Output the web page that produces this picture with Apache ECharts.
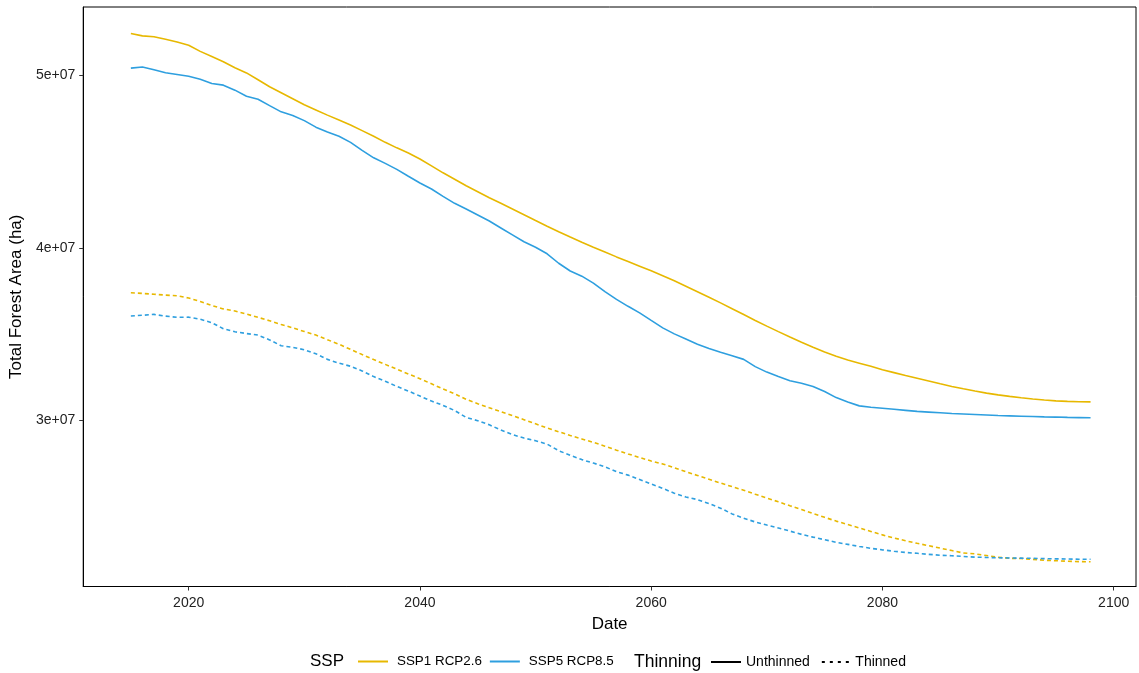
<!DOCTYPE html>
<html>
<head>
<meta charset="utf-8">
<script src="https://cdn.jsdelivr.net/npm/echarts@6/dist/echarts.min.js"></script>
<style>
  html, body { margin: 0; padding: 0; background: #fff; }
  #chart { width: 1139px; height: 673px; }
</style>
</head>
<body>
<div id="chart"></div>
<script>
// Years of the projection
const years = [];
for (let y = 2015; y <= 2098; y++) years.push(y);

// Total forest area (ha), one value per year, 2015..2098
const ssp1Unthinned = [
  52440000, 52300000, 52250000, 52100000, 51950000, 51760000, 51400000, 51100000, 50800000, 50450000,
  50150000, 49750000, 49350000, 49000000, 48650000, 48300000, 48000000, 47700000, 47420000, 47130000,
  46800000, 46470000, 46120000, 45800000, 45500000, 45150000, 44750000, 44350000, 43980000, 43600000,
  43250000, 42900000, 42580000, 42250000, 41920000, 41580000, 41250000, 40930000, 40620000, 40320000,
  40030000, 39750000, 39470000, 39200000, 38930000, 38660000, 38380000, 38080000, 37770000, 37450000,
  37130000, 36800000, 36460000, 36120000, 35780000, 35450000, 35130000, 34820000, 34520000, 34230000,
  33950000, 33700000, 33480000, 33300000, 33120000, 32920000, 32750000, 32580000, 32420000, 32260000,
  32100000, 31950000, 31810000, 31680000, 31560000, 31460000, 31370000, 31290000, 31220000, 31160000,
  31110000, 31080000, 31060000, 31050000
];
const ssp5Unthinned = [
  50430000, 50490000, 50330000, 50160000, 50060000, 49960000, 49780000, 49540000, 49440000, 49150000,
  48800000, 48620000, 48250000, 47890000, 47680000, 47380000, 47000000, 46720000, 46470000, 46120000,
  45650000, 45220000, 44900000, 44550000, 44150000, 43760000, 43410000, 42980000, 42580000, 42250000,
  41900000, 41550000, 41150000, 40750000, 40350000, 40030000, 39650000, 39100000, 38650000, 38350000,
  37950000, 37450000, 37000000, 36600000, 36220000, 35780000, 35350000, 35000000, 34700000, 34400000,
  34150000, 33930000, 33730000, 33520000, 33100000, 32780000, 32520000, 32280000, 32130000, 31950000,
  31650000, 31300000, 31050000, 30820000, 30740000, 30680000, 30620000, 30560000, 30500000, 30460000,
  30420000, 30380000, 30350000, 30320000, 30290000, 30260000, 30240000, 30220000, 30200000, 30180000,
  30170000, 30150000, 30140000, 30130000
];
const ssp1Thinned = [
  37390000, 37350000, 37300000, 37250000, 37210000, 37080000, 36880000, 36650000, 36450000, 36330000,
  36150000, 35960000, 35760000, 35550000, 35350000, 35140000, 34930000, 34660000, 34400000, 34100000,
  33800000, 33510000, 33230000, 32950000, 32670000, 32400000, 32100000, 31800000, 31520000, 31200000,
  30950000, 30710000, 30480000, 30250000, 30020000, 29780000, 29540000, 29320000, 29100000, 28900000,
  28700000, 28480000, 28250000, 28030000, 27820000, 27620000, 27450000, 27230000, 27000000, 26780000,
  26560000, 26340000, 26130000, 25920000, 25690000, 25470000, 25250000, 25020000, 24800000, 24570000,
  24350000, 24130000, 23930000, 23730000, 23530000, 23330000, 23150000, 22990000, 22840000, 22700000,
  22560000, 22420000, 22280000, 22230000, 22130000, 22030000, 21970000, 21960000, 21910000, 21860000,
  21830000, 21800000, 21780000, 21770000
];
const ssp5Thinned = [
  36040000, 36080000, 36130000, 36030000, 35960000, 35970000, 35850000, 35650000, 35300000, 35120000,
  35020000, 34930000, 34650000, 34310000, 34220000, 34080000, 33850000, 33520000, 33300000, 33120000,
  32850000, 32520000, 32250000, 31950000, 31680000, 31390000, 31100000, 30850000, 30550000, 30150000,
  29960000, 29720000, 29420000, 29150000, 28950000, 28800000, 28600000, 28220000, 27950000, 27700000,
  27500000, 27280000, 27000000, 26800000, 26550000, 26280000, 26030000, 25750000, 25530000, 25380000,
  25150000, 24880000, 24550000, 24300000, 24080000, 23900000, 23730000, 23550000, 23360000, 23200000,
  23050000, 22900000, 22780000, 22660000, 22550000, 22460000, 22380000, 22310000, 22260000, 22200000,
  22150000, 22120000, 22080000, 22040000, 22020000, 22000000, 21990000, 21980000, 21970000, 21950000,
  21940000, 21930000, 21920000, 21920000
];

// Axis ticks
const xTicks = [2020, 2040, 2060, 2080, 2100];
const yTicks = [30000000, 40000000, 50000000];

const ssp1Color = '#E7B800';
const ssp5Color = '#2E9FDF';
const font = 'Liberation Sans, Arial, Helvetica, sans-serif';

// Legend key glyphs: a solid stroke and a row of short dashes
const solidKey = 'rect';
const dottedKey = 'path://M0,0h3v2h-3zM8,0h3v2h-3zM16,0h3v2h-3zM24,0h3v2h-3z';

const pairs = vals => years.map((y, i) => [y, vals[i]]);

const lineSeries = (name, vals, color, type) => ({
  name: name,
  type: 'line',
  data: pairs(vals),
  showSymbol: false,
  symbol: 'none',
  smooth: false,
  animation: false,
  color: color,
  itemStyle: { color: color },
  lineStyle: { color: color, width: 1.6, type: type }
});

const chart = echarts.init(document.getElementById('chart'), null, { renderer: 'canvas' });
chart.setOption({
  backgroundColor: '#ffffff',
  animation: false,
  textStyle: { fontFamily: font },
  grid: {
    left: 81, right: 3, top: 7, bottom: 86.5,
    show: true, borderColor: '#000', borderWidth: 1, backgroundColor: 'transparent'
  },
  xAxis: {
    type: 'value',
    min: 2010.88, max: 2101.93,
    name: 'Date',
    nameLocation: 'middle',
    nameGap: 24,
    nameTextStyle: { fontSize: 17, color: '#000', fontFamily: font },
    axisLine: { show: true, lineStyle: { color: '#000', width: 1 } },
    axisTick: { show: true, length: 4, lineStyle: { color: '#333' }, customValues: xTicks },
    axisLabel: {
      fontSize: 14, color: '#222', margin: 10, customValues: xTicks, fontFamily: font,
      formatter: v => String(v)
    },
    splitLine: { show: false }
  },
  yAxis: {
    type: 'value',
    min: 20334000, max: 53977000,
    name: 'Total Forest Area (ha)',
    nameLocation: 'middle',
    nameGap: 50,
    nameTextStyle: { fontSize: 17, color: '#000', fontFamily: font },
    axisLine: { show: true, lineStyle: { color: '#000', width: 1 } },
    axisTick: { show: true, length: 4, lineStyle: { color: '#333' }, customValues: yTicks },
    axisLabel: {
      fontSize: 14, color: '#222', margin: 8, customValues: yTicks, fontFamily: font,
      formatter: v => (v / 1e7) + 'e+07'
    },
    splitLine: { show: false }
  },
  legend: [
    {
      left: 358, top: 655, padding: 0, itemWidth: 30, itemHeight: 2, itemGap: 8,
      selectedMode: false,
      textStyle: { fontSize: 13.4, color: '#000', fontFamily: font, padding: [0, 0, 0, 4] },
      data: [
        { name: 'SSP1 RCP2.6', icon: solidKey },
        { name: 'SSP5 RCP8.5', icon: solidKey }
      ]
    },
    {
      left: 711, top: 655, padding: 0, itemWidth: 30, itemHeight: 2, itemGap: 12,
      selectedMode: false,
      textStyle: { fontSize: 14, color: '#000', fontFamily: font, padding: [0, 0, 0, 0] },
      data: [
        { name: 'Unthinned', icon: solidKey },
        { name: 'Thinned', icon: dottedKey }
      ]
    }
  ],
  graphic: [
    { type: 'text', left: 310, top: 653, style: { text: 'SSP', fontSize: 17, fill: '#000', fontFamily: font } },
    { type: 'text', left: 634, top: 653, style: { text: 'Thinning', fontSize: 17.5, fill: '#000', fontFamily: font } }
  ],
  series: [
    lineSeries('SSP1 RCP2.6', ssp1Unthinned, ssp1Color, 'solid'),
    lineSeries('SSP5 RCP8.5', ssp5Unthinned, ssp5Color, 'solid'),
    lineSeries('SSP1 RCP2.6', ssp1Thinned, ssp1Color, [4, 3]),
    lineSeries('SSP5 RCP8.5', ssp5Thinned, ssp5Color, [4, 3]),
    lineSeries('Unthinned', [], '#000', 'solid'),
    lineSeries('Thinned', [], '#000', [2, 4])
  ]
});
</script>
</body>
</html>
